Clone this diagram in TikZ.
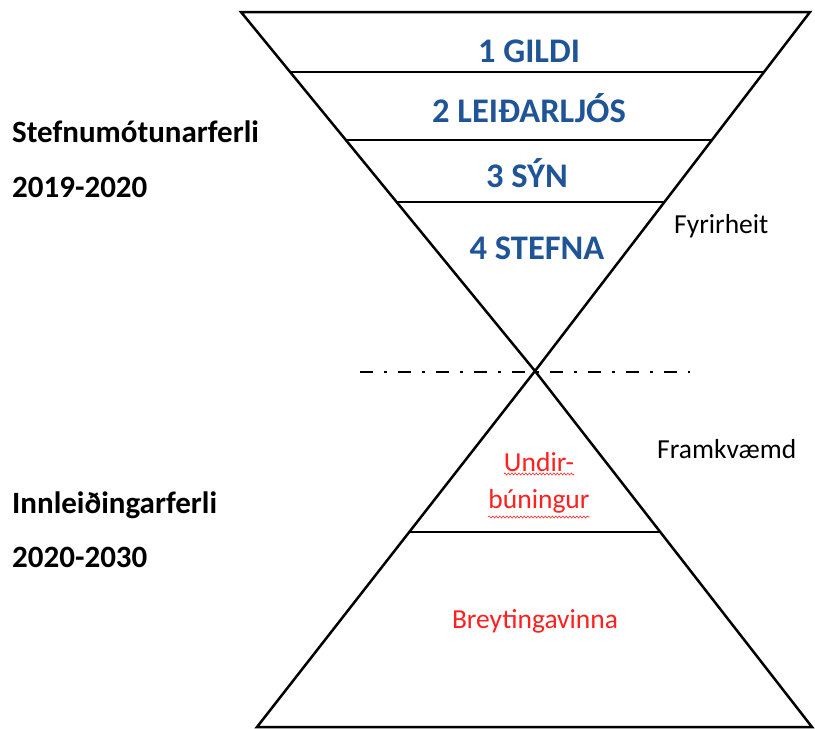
\documentclass[tikz,border=0pt]{standalone}
\usepackage{fontspec}
\setmainfont{Carlito}
\usetikzlibrary{calc,decorations.pathmorphing}
\definecolor{lvlblue}{RGB}{31,84,150}
\definecolor{lvlred}{RGB}{255,32,32}
\begin{document}
\begin{tikzpicture}[x=1pt,y=-1pt,
  edge/.style={line width=2.5pt,line join=miter},
  lvl/.style={font=\fontsize{34.5}{40}\selectfont\bfseries,text=lvlblue,anchor=base,inner sep=0pt},
  side/.style={font=\fontsize{31}{36}\selectfont\bfseries,anchor=base west,inner sep=0pt},
  note/.style={font=\fontsize{27.5}{32}\selectfont,anchor=base west,inner sep=0pt},
  redtxt/.style={font=\fontsize{27.5}{32}\selectfont,text=lvlred,anchor=base,inner sep=0pt},
  squig/.style={draw=lvlred,line width=0.6pt,decorate,decoration={snake,amplitude=1pt,segment length=3.5pt}},
  dashdot/.style={line width=2.8pt,dash pattern=on 13pt off 11pt on 3pt off 11pt}]
\useasboundingbox (0,0) rectangle (815,729);
\fill[white] (0,0) rectangle (815,729);
% corners
\coordinate (TL) at (241,12);
\coordinate (TR) at (810,12);
\coordinate (AP) at (535,371);
\coordinate (BL) at (257,727);
\coordinate (BR) at (812,727);
% level lines
\coordinate (L1a) at ($(TL)!0.1671!(AP)$);
\coordinate (L1b) at ($(TR)!0.1671!(AP)$);
\coordinate (L2a) at ($(TL)!0.3565!(AP)$);
\coordinate (L2b) at ($(TR)!0.3565!(AP)$);
\coordinate (L3a) at ($(TL)!0.5292!(AP)$);
\coordinate (L3b) at ($(TR)!0.5292!(AP)$);
\coordinate (L4a) at ($(AP)!0.4522!(BL)$);
\coordinate (L4b) at ($(AP)!0.4522!(BR)$);
\coordinate (D1) at (360,372);
\coordinate (D2) at (690,372);
% shapes
\draw[edge] (TL) -- (TR) -- (AP) -- cycle;
\draw[edge] (AP) -- (BR) -- (BL) -- cycle;
\draw[edge] (L1a) -- (L1b);
\draw[edge] (L2a) -- (L2b);
\draw[edge] (L3a) -- (L3b);
\draw[edge] (L4a) -- (L4b);
\draw[dashdot] (D1) -- (D2);
% level texts
\node[lvl] (g1) at (529,62) {1 GILDI};
\node[lvl] (g2) at (529,122) {2 LEIÐARLJÓS};
\node[lvl] (g3) at (527,187) {3 SÝN};
\node[lvl] (g4) at (537,259) {4 STEFNA};
% side texts
\node[side] (s1) at (12,142) {Stefnumótunarferli};
\node[side] (s2) at (12,197) {2019-2020};
\node[side] (s3) at (12,513) {Innleiðingarferli};
\node[side] (s4) at (12,567) {2020-2030};
\node[note] (n1) at (674,233) {Fyrirheit};
\node[note] (n2) at (657,458) {Framkvæmd};
% red texts
\node[redtxt] (r1) at (539,471) {Undir-};
\node[redtxt] (r2) at (539,508) {búningur};
\node[redtxt] (r3) at (535,628) {Breytingavinna};
\draw[squig] ([yshift=-3pt]r1.base west) -- ([yshift=-3pt]r1.base east);
\draw[squig] ([yshift=-9pt]r2.base west) -- ([yshift=-9pt]r2.base east);
\end{tikzpicture}
\end{document}
